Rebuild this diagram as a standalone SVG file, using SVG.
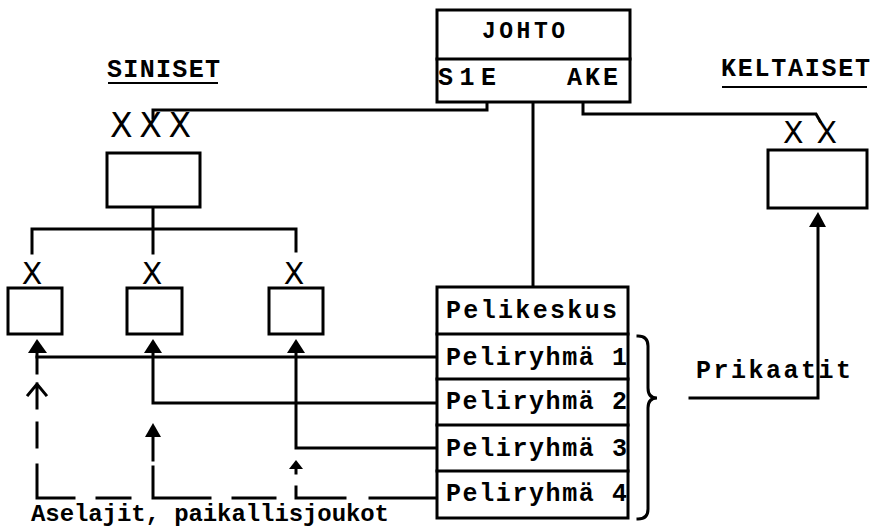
<svg xmlns="http://www.w3.org/2000/svg" width="873" height="529" viewBox="0 0 873 529">
<style>
.box{fill:#fff;stroke:#000;stroke-width:3}
.ln{fill:none;stroke:#000;stroke-width:3;stroke-linecap:square}
.t{font-family:"Liberation Mono","Courier New",monospace;font-weight:bold;font-size:25px;fill:#000}
.x{font-family:"DejaVu Sans","Liberation Sans",sans-serif;fill:#000}
.ah{fill:#000}
</style>
<rect width="873" height="529" fill="#fff"/>

<g id="connectors">
  <path class="ln" d="M487,102 V110 H153 V118"/>
  <path class="ln" d="M533,102 V287"/>
  <path class="ln" d="M583,102 V114 H816 L820,121"/>
  <path class="ln" d="M153,207 V253"/>
  <path class="ln" d="M32,253 V229 H296 V251"/>
  <path class="ln" d="M437,357 H37"/>
  <path class="ln" d="M37,373 V352"/>
  <polygon class="ah" points="37,339 28,353 47,353"/>
  <path class="ln" d="M437,403 H153 V352"/>
  <polygon class="ah" points="153,339 144,353 162,353"/>
  <path class="ln" d="M437,448 H296 V352"/>
  <polygon class="ah" points="296,339 287,353 305,353"/>
  <path class="ln" d="M37,465 V498 H74"/>
  <path class="ln" d="M97,498 H130"/>
  <path class="ln" d="M153,467 V498 H210"/>
  <path class="ln" d="M233,498 H275"/>
  <path class="ln" d="M296,487 V498 H345"/>
  <path class="ln" d="M370,498 H437"/>
  <path class="ln" d="M37,423 V447"/>
  <path class="ln" d="M37,408 V384 M28,395 L37,384 L46,395"/>
  <path class="ln" d="M153,460 V436"/>
  <polygon class="ah" points="153,423 145,437 161,437"/>
  <path class="ln" d="M296,468 V473"/>
  <polygon class="ah" points="296,460 289,469 303,469"/>
  <path class="ln" d="M638,336 Q648,336 648,346 V388 Q648,398 657,398 Q648,398 648,408 V509 Q648,519 638,519"/>
  <path class="ln" d="M690,398 H818 V226"/>
  <polygon class="ah" points="818,212 809,227 826,227"/>
</g>

<g id="johto">
  <rect class="box" x="437" y="10" width="193" height="92"/>
  <line class="ln" x1="437" y1="59" x2="630" y2="59"/>
  <text class="t" x="482" y="38" textLength="83" lengthAdjust="spacing" style="font-size:23px">JOHTO</text>
  <text class="t" x="438" y="85" textLength="58" lengthAdjust="spacing">S1E</text>
  <text class="t" x="567" y="85" textLength="51" lengthAdjust="spacing">AKE</text>
</g>

<g id="siniset-label">
  <text class="t" x="107" y="77" textLength="113" lengthAdjust="spacing">SINISET</text>
  <line x1="108" y1="83" x2="218" y2="83" stroke="#000" stroke-width="2"/>
</g>

<g id="keltaiset-label">
  <text class="t" x="721" y="76" textLength="149" lengthAdjust="spacing">KELTAISET</text>
  <line x1="722" y1="87" x2="867" y2="87" stroke="#000" stroke-width="2"/>
</g>

<g id="siniset-hq">
  <text class="x" x="110" y="137" style="font-size:33px" textLength="81" lengthAdjust="spacing">XXX</text>
  <rect class="box" x="107" y="153" width="93" height="54"/>
</g>

<g id="keltaiset-hq">
  <text class="x" x="783" y="143" style="font-size:30px" textLength="54" lengthAdjust="spacing">XX</text>
  <rect class="box" x="768" y="150" width="99" height="58"/>
</g>

<g id="unit1">
  <text class="x" x="32" y="284" text-anchor="middle" style="font-size:30px">X</text>
  <rect class="box" x="8" y="288" width="54" height="46"/>
</g>
<g id="unit2">
  <text class="x" x="152" y="284" text-anchor="middle" style="font-size:30px">X</text>
  <rect class="box" x="127" y="288" width="55" height="46"/>
</g>
<g id="unit3">
  <text class="x" x="294" y="284" text-anchor="middle" style="font-size:30px">X</text>
  <rect class="box" x="269" y="288" width="54" height="46"/>
</g>

<g id="pelikeskus">
  <rect class="box" x="437" y="287" width="191" height="231"/>
  <line class="ln" x1="437" y1="334" x2="628" y2="334"/>
  <line class="ln" x1="437" y1="379" x2="628" y2="379"/>
  <line class="ln" x1="437" y1="425" x2="628" y2="425"/>
  <line class="ln" x1="437" y1="471" x2="628" y2="471"/>
  <text class="t" x="446" y="318" textLength="171" lengthAdjust="spacing">Pelikeskus</text>
  <text class="t" x="446" y="365" textLength="181" lengthAdjust="spacing">Peliryhmä 1</text>
  <text class="t" x="446" y="409" textLength="181" lengthAdjust="spacing">Peliryhmä 2</text>
  <text class="t" x="446" y="456" textLength="181" lengthAdjust="spacing">Peliryhmä 3</text>
  <text class="t" x="446" y="501" textLength="181" lengthAdjust="spacing">Peliryhmä 4</text>
</g>

<g id="prikaatit-label">
  <text class="t" x="696" y="378" textLength="155" lengthAdjust="spacing">Prikaatit</text>
</g>

<g id="aselajit-label">
  <text class="t" x="31" y="521" textLength="358" lengthAdjust="spacing" style="font-size:24px">Aselajit, paikallisjoukot</text>
</g>
</svg>
